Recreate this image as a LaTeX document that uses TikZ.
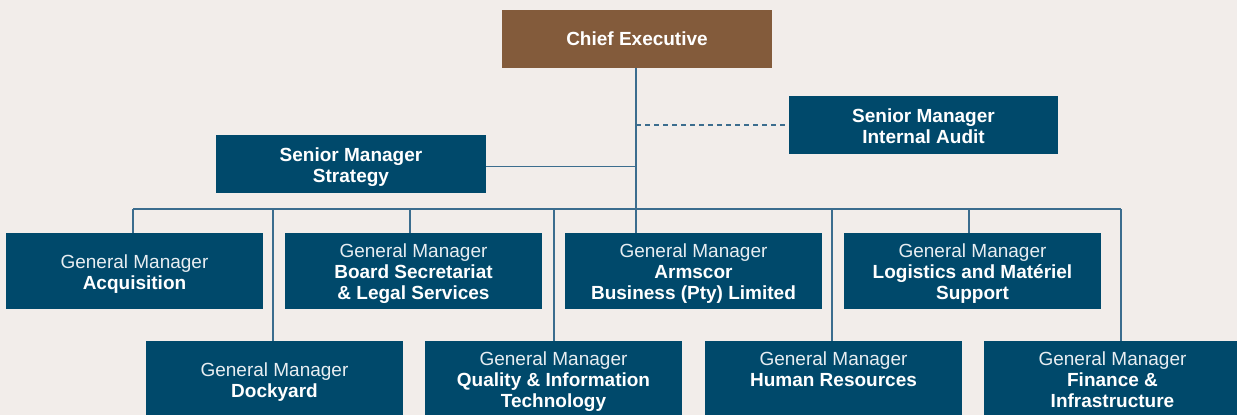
\documentclass[tikz,border=0pt]{standalone}
\usepackage{fontspec}
\setmainfont{Liberation Sans}
\definecolor{paper}{HTML}{F2EDEA}
\definecolor{navy}{HTML}{00496B}
\definecolor{bronze}{HTML}{835B3B}
\definecolor{wire}{HTML}{3C6D8E}
\definecolor{paletext}{HTML}{E8EEF2}
\begin{document}
\begin{tikzpicture}[x=1pt,y=-1pt,
  unit/.style={fill=navy, text=white, inner sep=0pt, align=center,
    minimum width=257pt, minimum height=76pt,
    font=\fontsize{19}{21}\selectfont},
  two lines/.style={text height=36pt, text depth=0pt},
  three lines/.style={text height=56pt, text depth=0pt},
  senior/.style={unit, minimum width=270pt, minimum height=58pt, font=\fontsize{19}{21}\selectfont\bfseries},
  head/.style={senior, fill=bronze},
  link/.style={draw=wire, line width=1.5pt},
  dotted link/.style={link, dash pattern=on 5pt off 4pt}]
  % canvas
  \fill[paper] (0,0) rectangle (1237,415);
  \useasboundingbox (0,0) rectangle (1237,415);

  % executive tier
  \node[head] (ce) at (637,39) {Chief Executive};
  \node[senior, two lines, minimum width=269pt] (audit) at (923.5,125) {Senior Manager\\Internal Audit};
  \node[senior, two lines, text height=37pt] (strat) at (351,164) {Senior Manager\\Strategy};

  % general managers, upper row
  \newcommand{\gm}[1]{{\color{paletext}General Manager}\\\textbf{#1}}
  \node[unit, two lines]   (acq)   at (134.5,271) {\gm{Acquisition}};
  \node[unit, three lines] (board) at (413.5,271) {\gm{Board Secretariat}\\\textbf{\& Legal Services}};
  \node[unit, three lines] (arm)   at (693.5,271) {\gm{Armscor}\\\textbf{Business (Pty) Limited}};
  \node[unit, three lines] (log)   at (972.5,271) {\gm{Logistics and Matériel}\\\textbf{Support}};

  % general managers, lower row
  \node[unit, two lines]   (dock) at (274.5,379) {\gm{Dockyard}};
  \node[unit, three lines] (qual) at (553.5,379) {\gm{Quality \& Information}\\\textbf{Technology}};
  \node[unit, three lines] (hr)   at (833.5,379) {\gm{Human Resources}\\\mbox{}};
  \node[unit, three lines] (fin)  at (1112.5,379) {\gm{Finance \&}\\\textbf{Infrastructure}};

  % reporting lines
  \coordinate (busL) at (133,209);
  \coordinate (busR) at (1121,209);
  \coordinate (trunk) at ([xshift=-1pt]ce.south);
  \coordinate (stratjoin) at ([yshift=-2.5pt]strat.east);
  \draw[link] (trunk) -- (trunk |- arm.north);
  \draw[dotted link] (trunk |- audit.west) -- (audit.west);
  \draw[link] (stratjoin) -- (trunk |- stratjoin);
  \draw[link] (busL) -- (busR);
  \draw[link] (busL) -- (busL |- acq.north);
  \draw[link] (busR) -- (busR |- fin.north);
  \draw[link] ([xshift=-3.5pt]board.north) -- ([xshift=-3.5pt]board.north |- busL);
  \draw[link] ([xshift=-3.5pt]log.north) -- ([xshift=-3.5pt]log.north |- busL);
  \draw[link] ([xshift=-1.5pt]dock.north) -- ([xshift=-1.5pt]dock.north |- busL);
  \draw[link] ([xshift=0.5pt]qual.north) -- ([xshift=0.5pt]qual.north |- busL);
  \draw[link] ([xshift=-1.5pt]hr.north) -- ([xshift=-1.5pt]hr.north |- busL);
\end{tikzpicture}
\end{document}
